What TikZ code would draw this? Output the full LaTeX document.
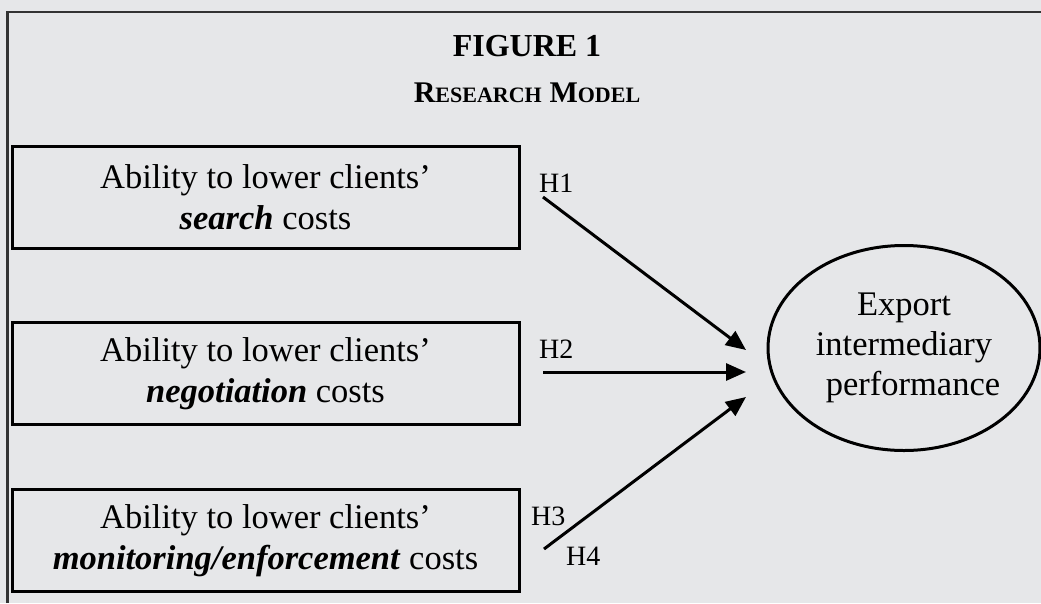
\documentclass[tikz,border=0pt]{standalone}
\usepackage{fontspec}
\setmainfont{Liberation Serif}
\usetikzlibrary{shapes.geometric,arrows.meta}
\definecolor{bgcol}{HTML}{E6E7E9}
\definecolor{framecol}{HTML}{333333}
\begin{document}
\begin{tikzpicture}[x=1pt,y=-1pt,
  box/.style={draw=black,line width=3pt,minimum width=507pt,minimum height=102pt,
    align=center,inner sep=0pt,font=\fontsize{34.5}{41}\selectfont},
  oval/.style={ellipse,draw=black,line width=3pt,minimum width=266pt,minimum height=205pt,
    align=center,inner sep=0pt,font=\fontsize{34.5}{40}\selectfont},
  hlab/.style={font=\fontsize{28}{28}\selectfont,inner sep=0pt,anchor=base west},
  link/.style={line width=3pt,-{Triangle[length=20pt,width=17pt]}}]
\fill[bgcol] (0,0) rectangle (1041,603);
\useasboundingbox (0,0) rectangle (1041,603);
\draw[framecol,line width=2.5pt] (7.5,603) -- (7.5,12) -- (1041,12);
% title
\node[anchor=base,inner sep=0pt,font=\fontsize{32}{32}\selectfont\bfseries] (fig) at (527,56) {FIGURE 1};
\node[anchor=base,inner sep=0pt,font=\bfseries] (sub) at (527,102)
  {\fontsize{30}{30}\selectfont R\fontsize{22}{22}\selectfont ESEARCH\hspace{0.35em}\fontsize{30}{30}\selectfont M\fontsize{22}{22}\selectfont ODEL};
% boxes
\node[box] (b1) at (265.5,197) {Ability to lower clients’\\\textbf{\textit{search}} costs};
\node[box] (b2) at (265.5,373.5) {Ability to lower clients’\\\textbf{\textit{negotiation}} costs};
\node[box] (b3) at (265.5,540.5) {Ability to lower clients’\\\textbf{\textit{monitoring/enforcement}} costs};
% outcome
\node[oval] (perf) at (904,348) {Export\\intermediary\\\hspace*{18pt}performance};
% arrows
\coordinate (s1) at (543,197); \coordinate (t1) at (746,350);
\coordinate (s2) at (543,372); \coordinate (t2) at (746,372);
\coordinate (s3) at (544,549); \coordinate (t3) at (746,397);
\draw[link] (s1) -- (t1);
\draw[link] (s2) -- (t2);
\draw[link] (s3) -- (t3);
% labels
\node[hlab] (h1) at (539,192) {H1};
\node[hlab] (h2) at (539,358) {H2};
\node[hlab] (h3) at (531,525) {H3};
\node[hlab] (h4) at (566,565) {H4};
\end{tikzpicture}
\end{document}
